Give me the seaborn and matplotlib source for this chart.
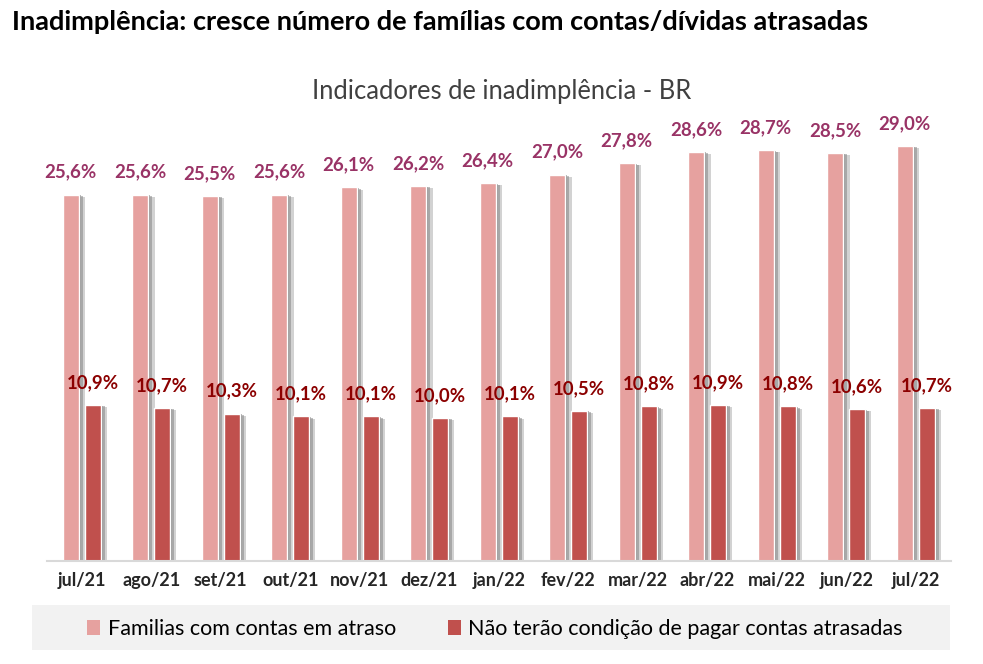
import pandas as pd
import matplotlib
matplotlib.use("Agg")
import matplotlib.pyplot as plt
import matplotlib.patheffects as pe
from matplotlib.patches import Rectangle, Patch
import seaborn as sns

# Data
months = ['jul/21', 'ago/21', 'set/21', 'out/21', 'nov/21', 'dez/21', 'jan/22',
          'fev/22', 'mar/22', 'abr/22', 'mai/22', 'jun/22', 'jul/22']
familias_atraso = [25.6, 25.6, 25.5, 25.6, 26.1, 26.2, 26.4, 27.0, 27.8, 28.6, 28.7, 28.5, 29.0]
sem_condicao = [10.9, 10.7, 10.3, 10.1, 10.1, 10.0, 10.1, 10.5, 10.8, 10.9, 10.8, 10.6, 10.7]
series_names = ['Familias com contas em atraso', 'Não terão condição de pagar contas atrasadas']

colors = ['#E6A19F', '#C0504D']
label_colors = ['#993366', '#8B0000']

df = pd.DataFrame({
    'mes': months * 2,
    'valor': familias_atraso + sem_condicao,
    'serie': [series_names[0]] * len(months) + [series_names[1]] * len(months),
})

sns.set_style('white')
plt.rcParams['font.family'] = ['Lato', 'DejaVu Sans']

fig = plt.figure(figsize=(9.83, 6.64), dpi=100)
ax = fig.add_axes([47 / 983, 103 / 664, 903.5 / 983, 458 / 664])

sns.barplot(data=df, x='mes', y='valor', hue='serie', palette=colors,
            width=0.632, ax=ax, legend=False, saturation=1)

# narrow the bars, keep their centres, add a soft (layered) shadow
shadow = [pe.SimplePatchShadow(offset=(4.5, -1.5), shadow_rgbFace='#808080', alpha=0.35),
          pe.SimplePatchShadow(offset=(3, -1), shadow_rgbFace='#808080', alpha=0.5),
          pe.SimplePatchShadow(offset=(1.5, -0.5), shadow_rgbFace='#808080', alpha=0.6),
          pe.Normal()]
for cont in ax.containers:
    for bar in cont:
        c = bar.get_x() + bar.get_width() / 2
        bar.set_width(0.23)
        bar.set_x(c - 0.115)
        bar.set_path_effects(shadow)

for cont, col in zip(ax.containers, label_colors):
    ax.bar_label(cont, labels=[f'{v:.1f}%'.replace('.', ',') for v in cont.datavalues],
                 padding=10, color=col, fontsize=13.4, fontweight='bold')

ax.set_ylim(0, 32)
ax.set_xlim(-0.5, len(months) - 0.5)
ax.set_xlabel('')
ax.set_ylabel('')
ax.set_yticks([])
for s in ['top', 'right', 'left']:
    ax.spines[s].set_visible(False)
ax.spines['bottom'].set_color('#d9d9d9')
ax.spines['bottom'].set_linewidth(1.5)

ax.set_xticks(range(len(months)))
ax.set_xticklabels(months, fontsize=13, fontweight='bold', color='#262626')
ax.set_xticks([i - 0.5 for i in range(len(months) + 1)], minor=True)
ax.tick_params(axis='x', which='major', length=0, pad=8)
ax.tick_params(axis='x', which='minor', length=6, width=1.5, color='#d9d9d9', direction='out')

fig.text(12 / 983, 1 - 22 / 664, 'Inadimplência: cresce número de famílias com contas/dívidas atrasadas',
         fontsize=19.5, fontweight='bold', color='black', va='center', ha='left')
fig.text(502 / 983, 1 - 91 / 664, 'Indicadores de inadimplência - BR',
         fontsize=18.4, color='#404040', va='center', ha='center')

# legend band
fig.patches.append(Rectangle((32 / 983, 1 - 650 / 664), 918 / 983, 45 / 664,
                             transform=fig.transFigure, facecolor='#f2f2f2',
                             edgecolor='none', zorder=0))
handles = [Patch(facecolor=c, edgecolor='none') for c in colors]
fig.legend(handles, series_names, loc='center', bbox_to_anchor=(495 / 983, 1 - 629 / 664),
           ncol=2, frameon=False, fontsize=15.5, handlelength=0.6, handleheight=0.7,
           handletextpad=0.35, columnspacing=2.4, labelcolor='black')

fig.savefig('out.png', dpi=100)
